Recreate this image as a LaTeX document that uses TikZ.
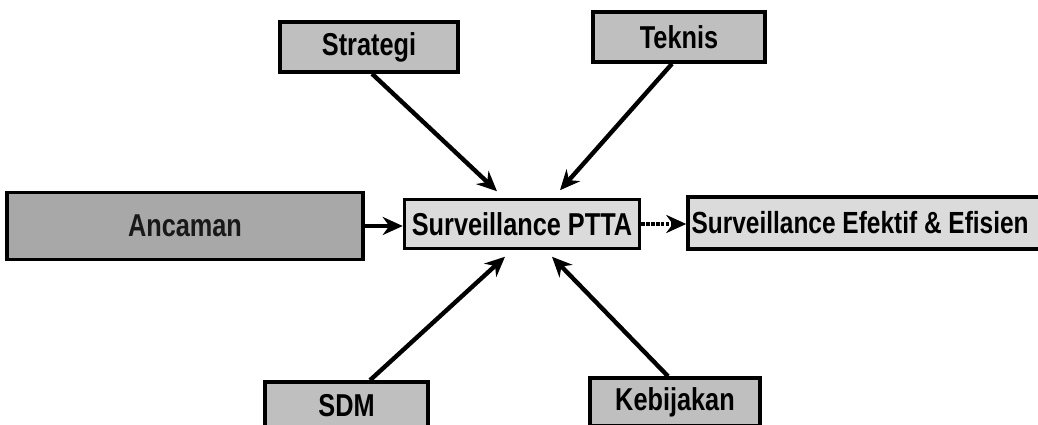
\documentclass[tikz,border=0pt]{standalone}
\usepackage{fontspec}
\setmainfont{Liberation Sans}
\newfontfamily\boxfont[FakeStretch=0.8]{Liberation Sans}
\usepackage{tikz}
\usetikzlibrary{shapes, arrows.meta, positioning, shadows, calc}
\tikzstyle{factor} = [rectangle, minimum width=3.5cm, minimum height=1cm, text centered, draw=black, line width=2pt, fill=gray!50, font=\boxfont\fontsize{18}{20}\selectfont\bfseries, drop shadow={shadow xshift=0.9pt, shadow yshift=-0.9pt, fill=black, opacity=1}]
\tikzstyle{core} = [factor, fill=gray!28]
\tikzstyle{threat} = [factor, fill=gray!68, text=black!90]
\tikzstyle{pointer} = [-{Stealth[length=4mm, width=3.6mm]}, line width=2.5pt]

\begin{document}
\begin{tikzpicture}[node distance=4cm]
\useasboundingbox (0,0) rectangle (20.76,-8.5);
\node (ptta) [core, minimum width=4.7cm, minimum height=0.98cm] at (10.44,-4.48) {Surveillance PTTA};
\node (strategi) [factor, above of=ptta, xshift=-3.06cm, yshift=-0.46cm, minimum width=3.56cm] {Strategi};
\node (teknis) [factor, above of=ptta, xshift=3.14cm, yshift=-0.26cm, minimum width=3.44cm] {Teknis};
\node (ancaman) [threat, left of=ptta, xshift=-2.74cm, yshift=-0.04cm, minimum width=7.12cm, minimum height=1.34cm] {Ancaman};
\node (efektif) [core, right=0.9cm of ptta, yshift=0.02cm, minimum height=1.04cm, inner xsep=2pt, text width=7.1cm, align=flush left, font=\boxfont\fontsize{17.4}{20}\selectfont\bfseries] {Surveillance Efektif \& Efisien};
\node (sdm) [factor, below of=ptta, xshift=-3.51cm, yshift=0.36cm, minimum width=3.26cm, minimum height=0.96cm] {SDM};
\node (kebijakan) [factor, below of=ptta, xshift=3.06cm, yshift=0.44cm, minimum width=3.4cm, minimum height=0.96cm] {Kebijakan};

\draw[pointer] ([xshift=0.06cm]strategi.south) -- ([xshift=-0.5cm, yshift=0.13cm]ptta.north);
\draw[pointer] ([xshift=-0.14cm]teknis.south) -- ([xshift=0.76cm, yshift=0.15cm]ptta.north);
\draw[pointer] ([xshift=0.47cm]sdm.north) -- ([xshift=-0.34cm, yshift=-0.13cm]ptta.south);
\draw[pointer] ([xshift=-0.14cm]kebijakan.north) -- ([xshift=0.6cm, yshift=-0.13cm]ptta.south);
\draw[pointer] (ancaman.east) -- (ancaman.east -| ptta.west);
\draw[pointer, dash pattern=on 2pt off 0.8pt] (ptta.east) -- (ptta.east -| efektif.west);
\end{tikzpicture}
\end{document}
